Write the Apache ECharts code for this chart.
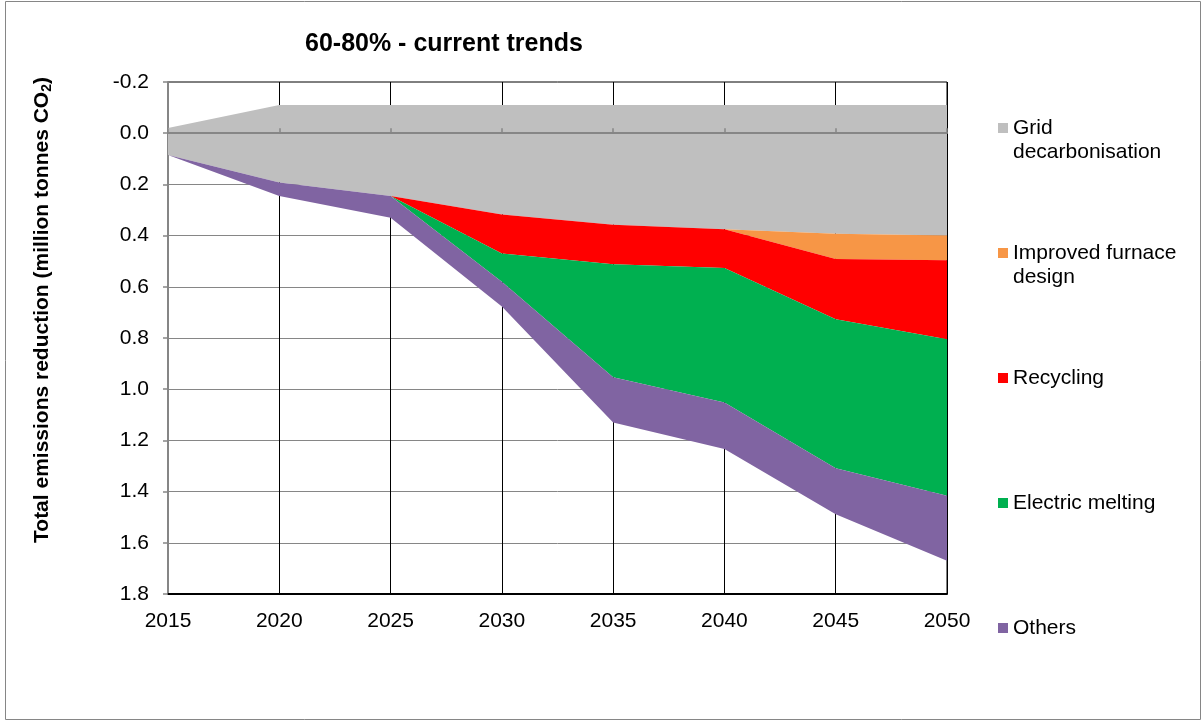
<!DOCTYPE html>
<html>
<head>
<meta charset="utf-8">
<title>60-80% - current trends</title>
<script src="https://cdn.jsdelivr.net/npm/echarts@6/dist/echarts.min.js"></script>
<style>
  html, body { margin: 0; padding: 0; background: #fff; }
  #chart { width: 1203px; height: 722px; }
</style>
</head>
<body>
<div id="chart"></div>
<script>
var years = ['2015', '2020', '2025', '2030', '2035', '2040', '2045', '2050'];

// hidden first band: the grey area starts above 0
var offset = [-0.02, -0.11, -0.11, -0.11, -0.11, -0.11, -0.11, -0.11];
var gridDecarb = [0.105, 0.303, 0.355, 0.428, 0.468, 0.485, 0.503, 0.51];
var furnace = [0, 0, 0, 0, 0, 0, 0.098, 0.096];
var recycling = [0, 0, 0, 0.152, 0.154, 0.152, 0.236, 0.309];
var electric = [0, 0, 0, 0.11, 0.441, 0.525, 0.582, 0.611];
var others = [0, 0.052, 0.085, 0.097, 0.177, 0.182, 0.179, 0.254];

var FONT = "'Liberation Sans', Arial, sans-serif";

var myChart = echarts.init(document.getElementById('chart'));

function band(name, data, color) {
    return {
        name: name,
        type: 'line',
        stack: 'total',
        stackStrategy: 'all',
        data: data,
        symbol: 'none',
        silent: true,
        color: color,
        itemStyle: { color: color },
        lineStyle: { width: 0, color: color },
        areaStyle: { color: color, opacity: 1 },
        emphasis: { disabled: true }
    };
}

var option = {
    animation: false,
    backgroundColor: '#fff',
    title: {
        text: '60-80% - current trends',
        left: 305,
        top: 32,
        padding: 0,
        textStyle: {
            fontFamily: FONT,
            fontSize: 25,
            fontWeight: 'bold',
            color: '#000'
        }
    },
    graphic: [{
        type: 'rect',
        silent: true,
        shape: { x: 5.5, y: 1.5, width: 1195, height: 718 },
        style: { fill: 'none', stroke: '#868686', lineWidth: 1 }
    }, {
        type: 'text',
        silent: true,
        x: 42,
        y: 310,
        rotation: Math.PI / 2,
        style: {
            text: '{a|Total emissions reduction (million tonnes CO}{b|2}{a|)}',
            align: 'center',
            verticalAlign: 'middle',
            rich: {
                a: { fontFamily: FONT, fontSize: 21, fontWeight: 'bold', fill: '#000', lineHeight: 24 },
                b: { fontFamily: FONT, fontSize: 14, fontWeight: 'bold', fill: '#000', lineHeight: 12, verticalAlign: 'bottom' }
            }
        }
    }],
    legend: {
        orient: 'vertical',
        left: 998,
        top: 92,
        padding: 0,
        itemWidth: 10,
        itemHeight: 10,
        itemGap: 53,
        icon: 'rect',
        selectedMode: false,
        itemStyle: { borderWidth: 0 },
        textStyle: {
            fontFamily: FONT,
            fontSize: 21,
            color: '#000',
            lineHeight: 24
        },
        // three text lines per item so the name's first line sits beside the marker
        formatter: function (name) {
            if (name === 'Grid decarbonisation') return ' \nGrid\ndecarbonisation';
            if (name === 'Improved furnace design') return ' \nImproved furnace\ndesign';
            return ' \n' + name + '\n ';
        },
        data: ['Grid decarbonisation', 'Improved furnace design', 'Recycling', 'Electric melting', 'Others']
    },
    grid: {
        left: 168,
        right: 256,
        top: 82,
        bottom: 128,
        show: true,
        borderColor: '#000',
        borderWidth: 1,
        backgroundColor: 'transparent'
    },
    xAxis: [{
        type: 'category',
        data: years,
        boundaryGap: false,
        position: 'bottom',
        axisLine: { onZero: false, lineStyle: { color: '#000', width: 2 } },
        axisTick: { show: false },
        axisLabel: { color: '#000', fontFamily: FONT, fontSize: 21, margin: 17, interval: 0 },
        splitLine: { show: true, interval: 0, lineStyle: { color: '#000', width: 1 } }
    }, {
        // category axis crossing at 0, drawn over the areas
        type: 'category',
        data: years,
        boundaryGap: false,
        position: 'top',
        z: 3,
        axisLine: { onZero: true, lineStyle: { color: '#868686', width: 2 } },
        axisTick: { show: true, length: 5, interval: 0, lineStyle: { color: '#868686', width: 1.5 } },
        axisLabel: { show: false },
        splitLine: { show: false }
    }],
    yAxis: {
        type: 'value',
        inverse: true,
        min: -0.2,
        max: 1.8,
        interval: 0.2,
        axisLine: { show: true, onZero: false, lineStyle: { color: '#868686', width: 2 } },
        axisTick: { show: true, length: 5, lineStyle: { color: '#868686', width: 1.5 } },
        axisLabel: {
            color: '#000',
            fontFamily: FONT,
            fontSize: 21,
            margin: 19,
            formatter: function (v) { return v.toFixed(1); }
        },
        splitLine: {
            show: true,
            showMinLine: false,
            showMaxLine: false,
            lineStyle: { color: '#868686', width: 1 }
        }
    },
    series: [
        {
            name: 'offset',
            type: 'line',
            stack: 'total',
            stackStrategy: 'all',
            data: offset,
            symbol: 'none',
            silent: true,
            lineStyle: { width: 0, opacity: 0 },
            emphasis: { disabled: true }
        },
        band('Grid decarbonisation', gridDecarb, '#BFBFBF'),
        band('Improved furnace design', furnace, '#F79646'),
        band('Recycling', recycling, '#FF0000'),
        band('Electric melting', electric, '#00B050'),
        band('Others', others, '#8064A2')
    ]
};
myChart.setOption(option);
</script>
</body>
</html>
